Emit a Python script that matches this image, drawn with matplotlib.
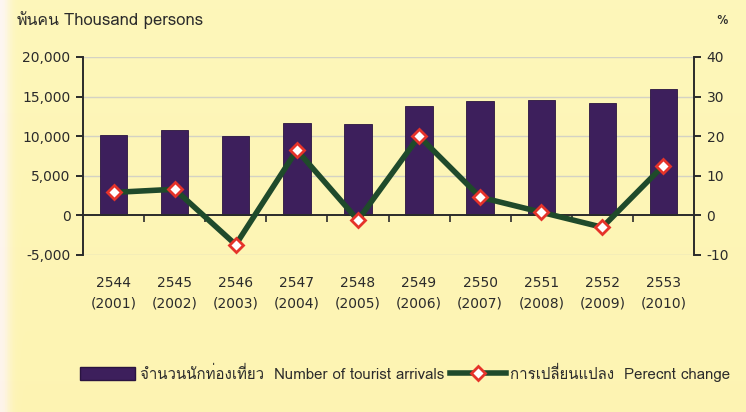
import numpy as np
import matplotlib
matplotlib.use("Agg")
import matplotlib.pyplot as plt
from matplotlib import font_manager
from matplotlib.patches import Patch
from matplotlib.lines import Line2D

# ---------------- data ----------------
years_be = ["2544", "2545", "2546", "2547", "2548", "2549", "2550", "2551", "2552", "2553"]
years_ce = ["(2001)", "(2002)", "(2003)", "(2004)", "(2005)", "(2006)", "(2007)", "(2008)", "(2009)", "(2010)"]
arrivals = [10133, 10799, 10004, 11651, 11517, 13822, 14464, 14584, 14150, 15936]   # thousand persons
pct_change = [5.8, 6.6, -7.4, 16.5, -1.2, 20.0, 4.6, 0.8, -3.0, 12.6]               # %
left_ticks = [-5000, 0, 5000, 10000, 15000, 20000]
right_ticks = [-10, 0, 10, 20, 30, 40]

# ---------------- fonts ----------------
thai_family = None
try:
    from fontTools.ttLib import TTFont
    for f in font_manager.fontManager.ttflist:
        try:
            tt = TTFont(f.fname, fontNumber=0, lazy=True)
            cmap = tt.getBestCmap()
            if cmap and 0x0E01 in cmap and 0x0E40 in cmap and 0x0E48 in cmap:
                thai_family = f.name
                break
        except Exception:
            pass
except Exception:
    pass
fam = ([thai_family] if thai_family else []) + ["DejaVu Sans"]
plt.rcParams["font.family"] = fam

num_font = dict(family=["DejaVu Sans"], fontsize=10, color="#2b2b2b")

# ---------------- figure ----------------
fig = plt.figure(figsize=(7.46, 4.12), dpi=100)
bg = fig.add_axes([0, 0, 1, 1], zorder=-10)
gy = np.linspace(0, 1, 200)[:, None]
gx = np.linspace(0, 1, 300)[None, :]
r = np.ones((200, 300)) * 0.993
g = 0.968 - 0.012 * gy + 0 * gx
b = 0.70 + 0.03 * (1 - gy) + 0.22 * np.exp(-(gx / 0.012) ** 2)
img = np.dstack([r, g, b]).clip(0, 1)
bg.imshow(img, aspect="auto", extent=[0, 1, 0, 1], origin="upper")
bg.set_axis_off()

ax = fig.add_axes([83 / 746, 1 - 255 / 412, (694 - 83) / 746, (255 - 57) / 412])
ax.set_facecolor("none")
x = np.arange(len(arrivals))

ax.set_ylim(-5000, 20000)
ax.set_xlim(-0.5, len(arrivals) - 0.5)
for yv in [5000, 10000, 15000, 20000, -5000]:
    ax.axhline(yv, color="#d4d2c4", lw=1.0, zorder=0)

ax.bar(x, arrivals, width=0.45, color="#3d1f5c", edgecolor="#2a1440", linewidth=0.6, zorder=2)

ax.spines["top"].set_visible(False)
ax.spines["right"].set_visible(False)
ax.spines["bottom"].set_position(("data", 0))
for s in ["left", "bottom"]:
    ax.spines[s].set_color("#2b2b2b")
    ax.spines[s].set_linewidth(1.4)
ax.set_yticks(left_ticks)
ax.set_yticklabels([f"{v:,}" for v in left_ticks], **num_font)
ax.tick_params(axis="y", direction="out", length=5, width=1.4, color="#2b2b2b", pad=4)
ax.set_xticks(x[:-1] + 0.5)
ax.set_xticklabels([])
ax.tick_params(axis="x", direction="out", length=5, width=1.2, color="#2b2b2b")
for i in x:
    ax.text(i, -0.141, years_be[i], transform=ax.get_xaxis_transform(), ha="center", va="center", **num_font)
    ax.text(i, -0.247, years_ce[i], transform=ax.get_xaxis_transform(), ha="center", va="center", **num_font)

ax2 = ax.twinx()
ax2.set_ylim(-10, 40)
ax2.plot(x, pct_change, color="#1f4a2b", lw=4, zorder=3,
         marker="D", markersize=7, markerfacecolor="white", markeredgecolor="#e5332a", markeredgewidth=2)
for s in ["top", "left", "bottom"]:
    ax2.spines[s].set_visible(False)
ax2.spines["right"].set_color("#2b2b2b")
ax2.spines["right"].set_linewidth(1.4)
ax2.set_yticks(right_ticks)
ax2.set_yticklabels([str(v) for v in right_ticks], **num_font)
ax2.tick_params(axis="y", direction="out", length=5, width=1.4, color="#2b2b2b", pad=4)

# header texts
fig.text(17 / 746, 1 - 21 / 412, "พันคน", fontsize=11.5, color="#2b2b2b", va="center", ha="left")
fig.text(64 / 746, 1 - 21 / 412, "Thousand persons", fontsize=12, color="#2b2b2b", va="center", ha="left")
fig.text(722 / 746, 1 - 21 / 412, "%", fontsize=9.5, color="#2b2b2b", va="center", ha="center")

handles = [Patch(facecolor="#3d1f5c", edgecolor="#2a1440"),
           Line2D([0], [0], color="#1f4a2b", lw=4, marker="D", markersize=7,
                  markerfacecolor="white", markeredgecolor="#e5332a", markeredgewidth=2)]
labels = ["จำนวนนักท่องเที่ยว  Number of tourist arrivals", "การเปลี่ยนแปลง  Perecnt change"]
fig.legend(handles, labels, loc="center", bbox_to_anchor=(405 / 746, 1 - 372 / 412), ncol=2,
           frameon=False, fontsize=10.8, handlelength=3.7, handleheight=1.0, handletextpad=0.3,
           columnspacing=0.4, labelcolor="#2b2b2b")

fig.savefig("out.png", dpi=100)
